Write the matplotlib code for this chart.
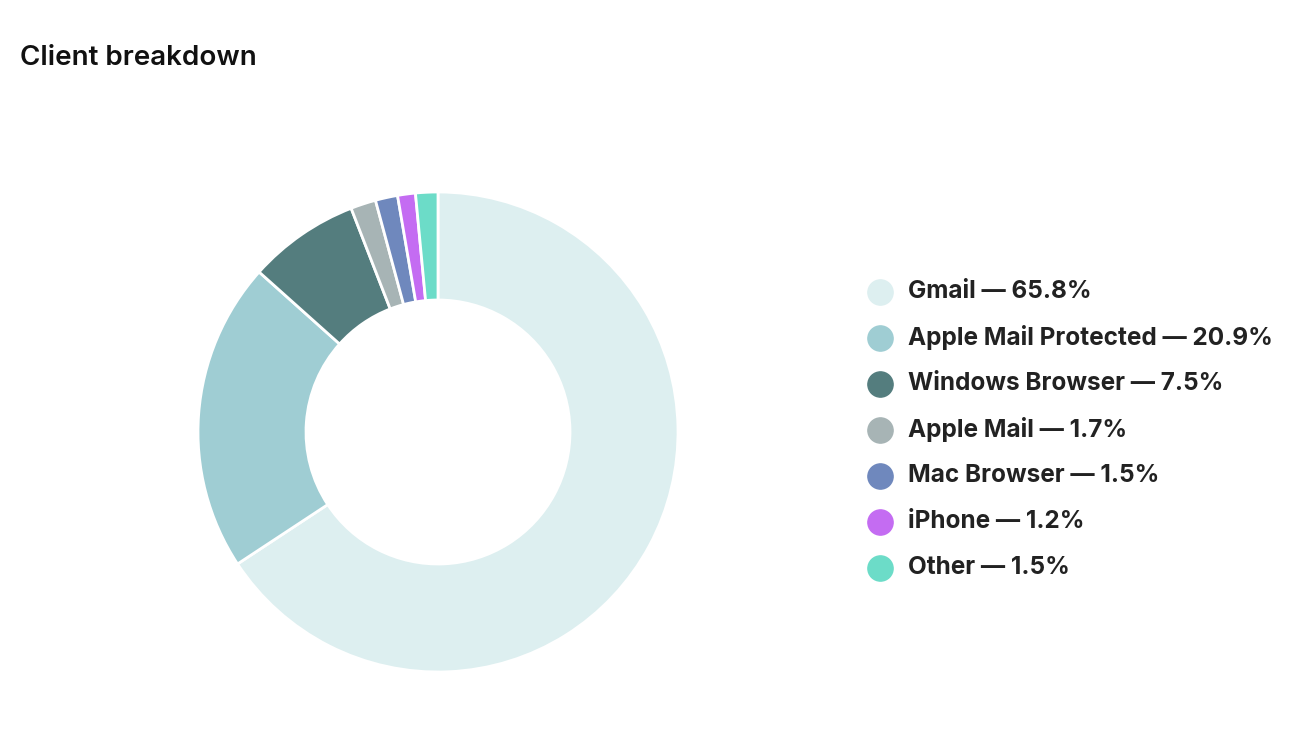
import matplotlib
matplotlib.use("Agg")
import matplotlib.pyplot as plt

categories = ["Gmail", "Apple Mail Protected", "Windows Browser", "Apple Mail", "Mac Browser", "iPhone", "Other"]
values = [65.8, 20.9, 7.5, 1.7, 1.5, 1.2, 1.5]
colors = ["#ddeff0", "#9fcdd3", "#547d7e", "#a7b4b5", "#6f88bd", "#c46cf2", "#6cdcc8"]

plt.rcParams['font.family'] = ['Inter', 'DejaVu Sans']
W, H = 1310, 736
fig = plt.figure(figsize=(W/100, H/100), dpi=100)
cx, cy, R = 438, 432, 240
ax = fig.add_axes([(cx-R)/W, (H-cy-R)/H, 2*R/W, 2*R/H])
ax.pie(values, colors=colors, startangle=90, counterclock=False, radius=1,
       wedgeprops=dict(width=108/240, edgecolor="white", linewidth=2, joinstyle="round"))
ax.set_aspect("equal")
ax.set_xlim(-1.0, 1.0); ax.set_ylim(-1.0, 1.0)

ov = fig.add_axes([0, 0, 1, 1], facecolor="none")
ov.set_xlim(0, W); ov.set_ylim(H, 0); ov.axis("off")
ov.text(20, 58, "Client breakdown", fontsize=20, fontweight="semibold", va="center", color="#111111")
for i, (c, v, col) in enumerate(zip(categories, values, colors)):
    y = 292 + i * 46
    ov.scatter([880], [y], s=330, color=col, zorder=3)
    ov.text(908, y, f"{c} — {v}%", fontsize=17.5, fontweight="bold", va="center", color="#222222")

fig.savefig("out.png", dpi=100)
